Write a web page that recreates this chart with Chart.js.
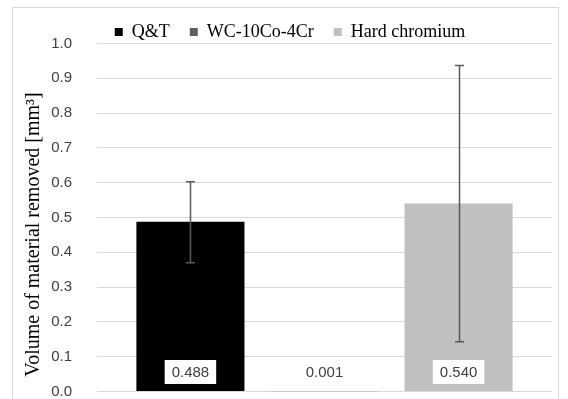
<!DOCTYPE html>
<html>
<head>
<meta charset="utf-8">
<script src="https://cdn.jsdelivr.net/npm/chart.js@4/dist/chart.umd.min.js"></script>
<style>
  html, body { margin: 0; padding: 0; background: #ffffff; }
  #wrap { width: 568px; height: 399px; position: relative; }
</style>
</head>
<body>
<div id="wrap"><canvas id="c" width="568" height="399"></canvas></div>
<script>
const categories = ['Material'];
const seriesNames = ['Q&T', 'WC-10Co-4Cr', 'Hard chromium'];
const seriesValues = [0.488, 0.001, 0.540];
const errorLow = [0.370, 0.001, 0.143];
const errorHigh = [0.603, 0.001, 0.937];
const valueLabels = ['0.488', '0.001', '0.540'];
const seriesColors = ['#000000', '#5f5f5f', '#c0c0c0'];
const yTicks = [0.0, 0.1, 0.2, 0.3, 0.4, 0.5, 0.6, 0.7, 0.8, 0.9, 1.0];
const yTitle = 'Volume of material removed [mm\u00B3]';

const datasets = seriesNames.map((name, i) => ({
  label: name,
  data: [seriesValues[i]],
  backgroundColor: seriesColors[i],
  borderWidth: 0,
  categoryPercentage: 0.884,
  barPercentage: 0.806,
  errLow: errorLow[i],
  errHigh: errorHigh[i],
  valueLabel: valueLabels[i],
  showErr: i !== 1
}));

const frame = {
  id: 'frame',
  beforeDraw(chart) {
    const ctx = chart.ctx;
    ctx.save();
    ctx.fillStyle = '#ffffff';
    ctx.fillRect(0, 0, chart.width, chart.height);
    ctx.strokeStyle = '#d9d9d9';
    ctx.lineWidth = 1;
    ctx.strokeRect(12.5, 7.5, 546, 400);
    ctx.restore();
  }
};

const errorBars = {
  id: 'errorBars',
  afterDatasetsDraw(chart) {
    const ctx = chart.ctx;
    const y = chart.scales.y;
    ctx.save();
    ctx.strokeStyle = '#595959';
    ctx.lineWidth = 1.5;
    chart.data.datasets.forEach((ds, i) => {
      if (!ds.showErr) return;
      const meta = chart.getDatasetMeta(i);
      meta.data.forEach(bar => {
        const x = Math.round(bar.x) + 0.5;
        const yl = y.getPixelForValue(ds.errLow);
        const yh = y.getPixelForValue(ds.errHigh);
        ctx.beginPath();
        ctx.moveTo(x, yh); ctx.lineTo(x, yl);
        ctx.moveTo(x - 4.5, yh); ctx.lineTo(x + 4.5, yh);
        ctx.moveTo(x - 4.5, yl); ctx.lineTo(x + 4.5, yl);
        ctx.stroke();
      });
    });
    ctx.restore();
  }
};

const valueBoxes = {
  id: 'valueBoxes',
  afterDatasetsDraw(chart) {
    const ctx = chart.ctx;
    const y = chart.scales.y;
    ctx.save();
    ctx.font = '15px "Liberation Sans", Arial, sans-serif';
    ctx.textAlign = 'center';
    ctx.textBaseline = 'middle';
    chart.data.datasets.forEach((ds, i) => {
      const meta = chart.getDatasetMeta(i);
      meta.data.forEach(bar => {
        const cx = bar.x;
        const cy = y.getPixelForValue(0) - 19.5;
        const w = ctx.measureText(ds.valueLabel).width + 14;
        ctx.fillStyle = '#ffffff';
        ctx.fillRect(cx - w / 2, cy - 12, w, 24);
        ctx.fillStyle = '#404040';
        ctx.fillText(ds.valueLabel, cx, cy + 1);
      });
    });
    ctx.restore();
  }
};

const layoutTweaks = {
  id: 'layoutTweaks',
  beforeInit(chart) {
    const orig = chart.legend.fit;
    chart.legend.fit = function () {
      orig.call(this);
      this.height = 43.5;
    };
  },
  afterLayout(chart) {
    chart.legend.left += 14;
    chart.legend.right += 14;
    chart.legend.top += 3;
    chart.legend.bottom += 3;
    const s = chart.scales.y;
    if (!s._titlePatched) {
      const origTitle = s.drawTitle;
      s.drawTitle = function () {
        const t = this.top, b = this.bottom;
        this.top += 17; this.bottom += 17;
        origTitle.call(this);
        this.top = t; this.bottom = b;
      };
      s._titlePatched = true;
    }
  }
};

new Chart(document.getElementById('c'), {
  type: 'bar',
  data: { labels: categories, datasets },
  plugins: [frame, layoutTweaks, errorBars, valueBoxes],
  options: {
    responsive: false,
    animation: false,
    layout: { padding: { left: 0, right: 16, top: 0, bottom: 7.5 } },
    plugins: {
      legend: {
        display: true,
        position: 'top',
        align: 'center',
        labels: {
          boxWidth: 8,
          boxHeight: 8,
          padding: 20,
          color: '#000000',
          font: { family: '"Liberation Serif", "Times New Roman", serif', size: 18 }
        }
      },
      tooltip: { enabled: false }
    },
    scales: {
      x: { display: false },
      y: {
        min: 0,
        max: 1,
        afterFit(scale) { scale.width = 97; },
        afterBuildTicks(scale) { scale.ticks = yTicks.map(v => ({ value: v })); },
        ticks: {
          padding: 0,
          color: '#404040',
          font: { family: '"Liberation Sans", Arial, sans-serif', size: 15, lineHeight: 1 },
          callback: v => Number(v).toFixed(1)
        },
        grid: { color: '#d9d9d9', lineWidth: 1, drawTicks: true, tickLength: 25, tickColor: 'rgba(0,0,0,0)' },
        border: { display: false },
        title: {
          display: true,
          text: yTitle,
          color: '#000000',
          padding: { top: 22, bottom: 0 },
          font: { family: '"Liberation Serif", "Times New Roman", serif', size: 20 }
        }
      }
    }
  }
});
</script>
</body>
</html>
